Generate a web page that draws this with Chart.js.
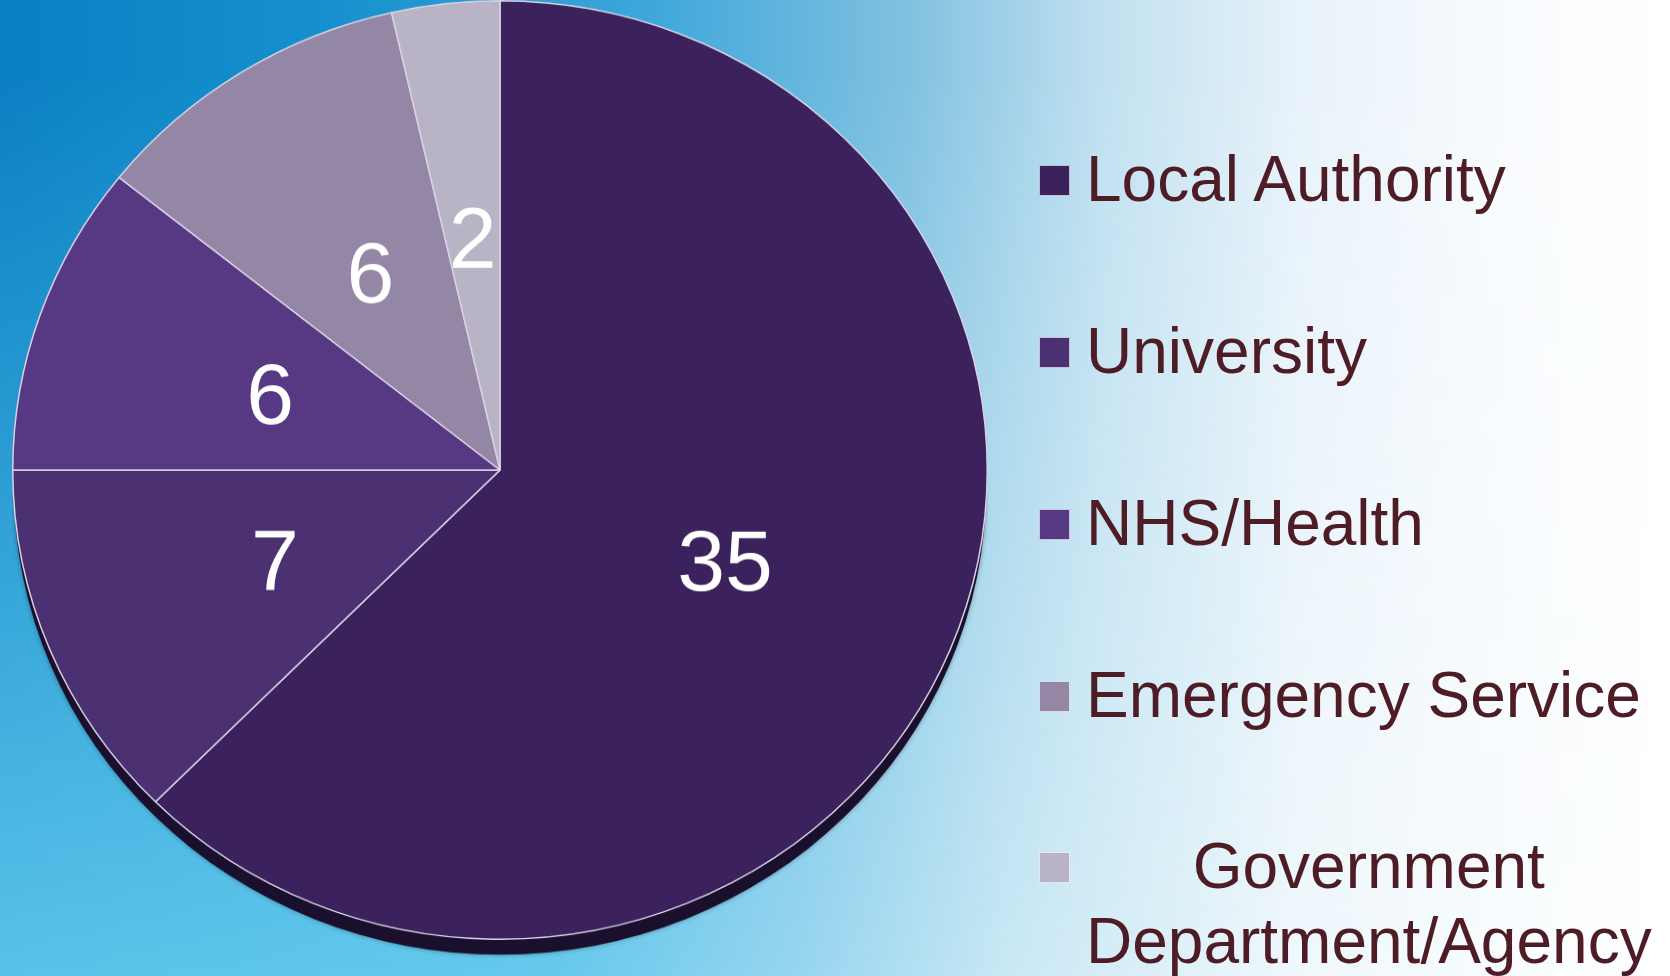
<!DOCTYPE html>
<html>
<head>
<meta charset="utf-8">
<script src="https://cdn.jsdelivr.net/npm/chart.js@4.4.1/dist/chart.umd.min.js"></script>
<style>
  html, body { margin: 0; padding: 0; }
  body {
    width: 1670px; height: 976px; overflow: hidden; position: relative;
    font-family: "Liberation Sans", Arial, sans-serif;
    background: linear-gradient(to right, #58c3ea 0%, #66c9ec 33%, #98d6f0 48%, #c8e8f5 60%, #f0f8fc 78%, #ffffff 100%);
  }
  /* dégradé du haut, plus bleu, qui s'efface vers le bas */
  body::before {
    content: ''; position: absolute; left: 0; top: 0; width: 100%; height: 100%;
    background: linear-gradient(to right, #0a7fc2 0%, #1590cd 19%, #3aa6da 38%, #7fc0e0 54%, #c0e0f0 66%, #e8f2fa 78%, #f8fbfe 90%, #ffffff 100%);
    -webkit-mask-image: linear-gradient(to bottom, #000 0%, #000 8%, transparent 100%);
    mask-image: linear-gradient(to bottom, #000 0%, #000 8%, transparent 100%);
  }
  /* le disque est légèrement aplati (perspective) */
  #pieBox {
    position: absolute; left: 12px; top: -18px; width: 976px; height: 1010px;
    transform: scaleY(0.963); transform-origin: 50% 488px;
  }
  #legend { position: absolute; left: 0; top: 0; }
  .item { position: absolute; left: 1039px; height: 160px; }
  .item .box { position: absolute; left: 0; top: 23px; width: 31px; height: 31px; border: 1px solid rgba(255,255,255,0.7); box-sizing: border-box; }
  .item .txt {
    position: absolute; left: 47px; top: 0; display: inline-block; white-space: nowrap;
    text-align: center; font-size: 64px; line-height: 75px; color: #4e1c25;
  }
</style>
</head>
<body>
<div id="pieBox"><canvas id="graphique-secteur"></canvas></div>
<div id="legend"></div>
<script>
/** Les données du camembert */
const categories = ['Local Authority', 'University', 'NHS/Health', 'Emergency Service', ['Government', 'Department/Agency']];
const valeurs = [35, 7, 6, 6, 2];
const couleurs = ['#3b225c', '#4b3072', '#573882', '#9487a6', '#b8b3c5'];

const aplatissement = 0.963;

/** Ombre sous le disque (effet 3D) */
const ombre = {
  id: 'ombre',
  beforeDatasetsDraw(chart) {
    const arc = chart.getDatasetMeta(0).data[0];
    if (!arc) { return; }
    const { x, y, outerRadius } = arc.getProps(['x', 'y', 'outerRadius'], true);
    const ctx = chart.ctx;
    ctx.save();
    ctx.beginPath();
    ctx.arc(x, y + 17, outerRadius - 1, 0, Math.PI * 2);
    ctx.fillStyle = '#1a0f2c';
    ctx.shadowColor = 'rgba(0,0,0,0.35)';
    ctx.shadowBlur = 5;
    ctx.fill();
    ctx.restore();
  }
};

/** Valeurs écrites dans chaque part */
const etiquettes = {
  id: 'etiquettes',
  afterDatasetsDraw(chart) {
    const ctx = chart.ctx;
    const taille = 86;
    ctx.save();
    ctx.font = taille + 'px "Liberation Sans", Arial, sans-serif';
    ctx.fillStyle = '#ffffff';
    ctx.textAlign = 'center';
    ctx.textBaseline = 'alphabetic';
    chart.getDatasetMeta(0).data.forEach((arc, i) => {
      const pos = arc.tooltipPosition(true);
      ctx.save();
      ctx.translate(pos.x, pos.y);
      ctx.scale(1, 1 / aplatissement);
      ctx.fillText(String(valeurs[i]), 0, taille * 0.358);
      ctx.restore();
    });
    ctx.restore();
  }
};

const ctx = document.getElementById('graphique-secteur').getContext('2d');
const chart = new Chart(ctx, {
  type: 'pie',
  data: {
    labels: categories,
    datasets: [{
      data: valeurs,
      backgroundColor: couleurs,
      borderColor: '#d9d2e6',
      borderWidth: 1.5,
      clip: false
    }]
  },
  options: {
    responsive: true,
    maintainAspectRatio: false,
    animation: false,
    layout: { padding: { top: 0, left: 0, right: 0, bottom: 34 } },
    plugins: {
      legend: { display: false },
      tooltip: { enabled: false }
    }
  },
  plugins: [ombre, etiquettes]
});

/** Légende HTML à droite */
const legende = document.getElementById('legend');
const hauts = [142, 314, 486, 658, 829];
categories.forEach((cat, i) => {
  const item = document.createElement('div');
  item.className = 'item';
  item.style.top = hauts[i] + 'px';
  const box = document.createElement('span');
  box.className = 'box';
  box.style.background = couleurs[i];
  const txt = document.createElement('span');
  txt.className = 'txt';
  txt.innerHTML = (Array.isArray(cat) ? cat : [cat]).join('<br>');
  item.appendChild(box);
  item.appendChild(txt);
  legende.appendChild(item);
});
</script>
</body>
</html>
